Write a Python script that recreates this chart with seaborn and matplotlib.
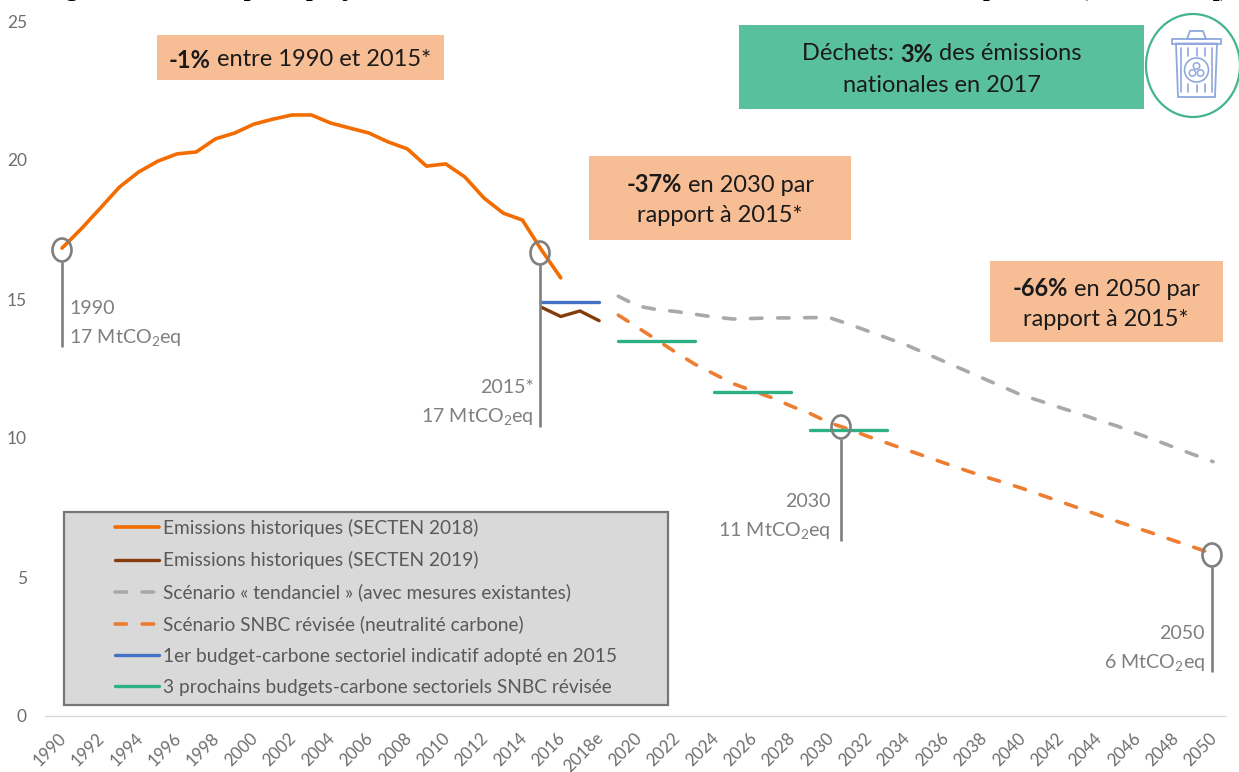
import matplotlib
matplotlib.use("Agg")
import matplotlib.pyplot as plt
import seaborn as sns
from matplotlib.patches import Circle, Ellipse, Polygon, Rectangle
from matplotlib.transforms import ScaledTranslation

# Axis categories
tick_years = list(range(1990, 2051, 2))
tick_labels = [str(y) if y != 2018 else "2018e" for y in tick_years]

# Series values, in MtCO2eq
hist_2018_years = list(range(1990, 2017))
hist_2018 = [16.83, 17.52, 18.27, 19.03, 19.57, 19.96, 20.22, 20.29, 20.76, 20.97,
             21.29, 21.47, 21.62, 21.62, 21.33, 21.15, 20.97, 20.65, 20.40, 19.78,
             19.86, 19.39, 18.63, 18.09, 17.84, 16.76, 15.76]
hist_2019_years = [2015, 2016, 2017, 2018]
hist_2019 = [14.70, 14.37, 14.57, 14.22]
scenario_years = list(range(2019, 2051))
tendanciel = [15.10, 14.75, 14.62, 14.55, 14.45, 14.35, 14.28, 14.30, 14.32, 14.32, 14.33,
              14.33, 14.10, 13.85, 13.60, 13.35, 13.05, 12.75, 12.45, 12.15, 11.85, 11.55,
              11.33, 11.10, 10.88, 10.65, 10.43, 10.17, 9.92, 9.66, 9.40, 9.15]
snbc = [14.42, 13.98, 13.53, 13.08, 12.65, 12.30, 11.95, 11.70, 11.45, 11.15, 10.88,
        10.55, 10.32, 10.06, 9.82, 9.58, 9.34, 9.10, 8.86, 8.63, 8.42, 8.20,
        7.96, 7.72, 7.48, 7.24, 7.00, 6.77, 6.54, 6.30, 6.07, 5.83]
budget_1_years = [2015, 2018]
budget_1 = [14.9, 14.9]
budget_2_years = [[2019, 2023], [2024, 2028], [2029, 2033]]
budget_2 = [[13.5, 13.5], [11.65, 11.65], [10.3, 10.3]]

legend_labels = ["Emissions historiques (SECTEN 2018)",
                 "Emissions historiques (SECTEN 2019)",
                 "Scénario « tendanciel » (avec mesures existantes)",
                 "Scénario SNBC révisée (neutralité carbone)",
                 "1er budget-carbone sectoriel indicatif adopté en 2015",
                 "3 prochains budgets-carbone sectoriels SNBC révisée"]

title_text = "Figure 10 : Historique et projections des émissions du secteur des déchets en France métropolitaine (en MtCO$_2$eq)"

W, H = 1239, 772
sns.set_style("white")
plt.rcParams["font.family"] = ["Lato", "DejaVu Sans"]
plt.rcParams["mathtext.default"] = "regular"

fig = plt.figure(figsize=(W / 100, H / 100), dpi=100)

# Axes placed so that 1990 -> 62 px, 2050 -> 1213 px, 0 -> 716 px, 25 -> 21 px
ax = fig.add_axes([45 / W, (H - 716) / H, (1225 - 45) / W, (716 - 21) / H])
px_per_year = (1213 - 62) / 60
ax.set_xlim(1990 - (62 - 45) / px_per_year, 2050 + (1225 - 1213) / px_per_year)
ax.set_ylim(0, 25)

dash = (0, (3.2, 4.3))
sns.lineplot(x=hist_2018_years, y=hist_2018, ax=ax, color="#F36C00", lw=2.6, label=legend_labels[0])
sns.lineplot(x=hist_2019_years, y=hist_2019, ax=ax, color="#843C0C", lw=2.4, label=legend_labels[1])
sns.lineplot(x=scenario_years, y=tendanciel, ax=ax, color="#A9A9A9", lw=2.6, linestyle=dash,
             dash_capstyle="round", label=legend_labels[2])
sns.lineplot(x=scenario_years, y=snbc, ax=ax, color="#ED7D31", lw=2.6, linestyle=dash,
             dash_capstyle="round", label=legend_labels[3])
sns.lineplot(x=budget_1_years, y=budget_1, ax=ax, color="#4472C4", lw=2.4,
             solid_capstyle="round", label=legend_labels[4])
for i in range(3):
    sns.lineplot(x=budget_2_years[i], y=budget_2[i], ax=ax, color="#2DB083", lw=2.4,
                 solid_capstyle="round", label=legend_labels[5] if i == 0 else None)

handles, labels = ax.get_legend_handles_labels()
ax.get_legend().remove()

# Axes styling
for side in ["top", "left", "right"]:
    ax.spines[side].set_visible(False)
ax.spines["bottom"].set_color("#D9D9D9")
ax.spines["bottom"].set_linewidth(1)
ax.grid(False)
ax.set_yticks([0, 5, 10, 15, 20, 25])
ax.set_xticks(tick_years)
ax.set_xticklabels(tick_labels, rotation=45, ha="right", rotation_mode="anchor")
ax.tick_params(axis="x", length=0, pad=10, labelsize=12.2, labelcolor="#6E6E6E")
ax.tick_params(axis="y", length=0, pad=13, labelsize=12.5, labelcolor="#6E6E6E")
shift = ScaledTranslation(-4 / 100, 0, fig.dpi_scale_trans)
for lab in ax.get_xticklabels():
    lab.set_transform(lab.get_transform() + shift)

# Overlay in pixel coordinates for boxes and callouts
ov = fig.add_axes([0, 0, 1, 1], facecolor="none")
ov.set_xlim(0, W)
ov.set_ylim(H, 0)
ov.axis("off")


def rich_line(cx, cy, parts, size, color="#1A1A1A"):
    # Centre a line made of bold and regular pieces
    renderer = fig.canvas.get_renderer()
    pieces = [ov.text(0, cy, s, fontsize=size, color=color, va="center_baseline", ha="left",
                      fontweight="bold" if b else "normal") for s, b in parts]
    widths = [p.get_window_extent(renderer).width for p in pieces]
    x = cx - sum(widths) / 2
    for p, w in zip(pieces, widths):
        p.set_x(x)
        x += w


def box(x0, y0, x1, y1, color):
    ov.add_patch(Rectangle((x0, y0), x1 - x0, y1 - y0, fc=color, ec="none"))


peach = "#F7BE95"
box_size = 17
box(157, 35, 444, 80, peach)
rich_line(300, 58, [("-1%", True), ("\u00a0entre 1990 et 2015*", False)], box_size)
box(589, 156, 851, 240, peach)
rich_line(720, 183, [("-37%", True), ("\u00a0en 2030 par", False)], box_size)
rich_line(720, 214, [("rapport à 2015*", False)], box_size)
box(990, 261, 1223, 342, peach)
rich_line(1106, 287, [("-66%", True), ("\u00a0en 2050 par", False)], box_size)
rich_line(1106, 317, [("rapport à 2015*", False)], box_size)
box(739, 25, 1144, 109, "#59C09D")
rich_line(942, 52, [("Déchets:\u00a0", False), ("3%", True), ("\u00a0des émissions", False)], box_size)
rich_line(942, 83, [("nationales en 2017", False)], box_size)

# Callouts: circle on the curve, stem and label
grey = "#7F7F7F"
callouts = [(62, 250, 347, "1990", "17", 69, "left", 307),
            (540, 253, 427, "2015*", "17", 534, "right", 386),
            (841, 427, 541, "2030", "11", 831, "right", 500),
            (1212, 555, 672, "2050", "6", 1205, "right", 632)]
for cx, cy, y_end, name, val, tx, ha, ty in callouts:
    ov.add_patch(Ellipse((cx, cy), 19, 23, fc="none", ec=grey, lw=1.9))
    ov.plot([cx, cx], [cy + 11.5, y_end], color=grey, lw=1.9, solid_capstyle="butt")
    ov.text(tx, ty, name, color=grey, fontsize=14.1, ha=ha, va="center_baseline")
    ov.text(tx, ty + 28, f"{val} MtCO$_2$eq", color=grey, fontsize=14.1, ha=ha, va="center_baseline")

# Legend panel
ov.add_patch(Rectangle((63.5, 511.5), 604, 193, fc="#D9D9D9", ec="#767676", lw=1.6))
leg = ov.legend(handles, labels, loc="upper left", bbox_to_anchor=(115 / W, 1 - 519 / H),
                bbox_transform=fig.transFigure, frameon=False, fontsize=13.8, labelcolor="#595959",
                borderpad=0, borderaxespad=0, handlelength=2.3, handletextpad=0.2, labelspacing=0.74)

# Waste bin icon
ring = "#43B58E"
icon = "#8FA9DD"
ov.add_patch(Ellipse((1193, 65.5), 94, 103, fc="none", ec=ring, lw=1.6, clip_on=True))
ov.add_patch(Rectangle((1172, 39), 49, 4.5, fc="none", ec=icon, lw=1.3))
ov.add_patch(Polygon([(1187, 39), (1190, 31), (1203, 31), (1206, 39)], closed=True, fc="none", ec=icon, lw=1.3))
ov.add_patch(Polygon([(1176, 43.5), (1217, 43.5), (1215, 97), (1178, 97)], closed=True, fc="none", ec=icon, lw=1.3))
for sx, top, bot in [(1181, 48, 92), (1188, 48, 56), (1196.5, 48, 56), (1205, 48, 56), (1212, 48, 92),
                     (1188, 84, 92), (1196.5, 85, 92), (1205, 84, 92)]:
    ov.plot([sx, sx], [top, bot], color=icon, lw=1.2)
ov.add_patch(Circle((1196.5, 70), 12, fc="none", ec=icon, lw=1.2))
for dx, dy in [(0, -4), (-4, 3), (4, 3)]:
    ov.add_patch(Circle((1196.5 + dx, 70 + dy), 3.2, fc="none", ec=icon, lw=1.1))

# Title, cut by the top edge of the image as in the source
ov.text(636, -4, title_text, fontsize=17.6, fontweight="bold", color="black",
        family="Liberation Serif", ha="center", va="baseline", clip_on=False)

fig.savefig("out.png", dpi=100)
